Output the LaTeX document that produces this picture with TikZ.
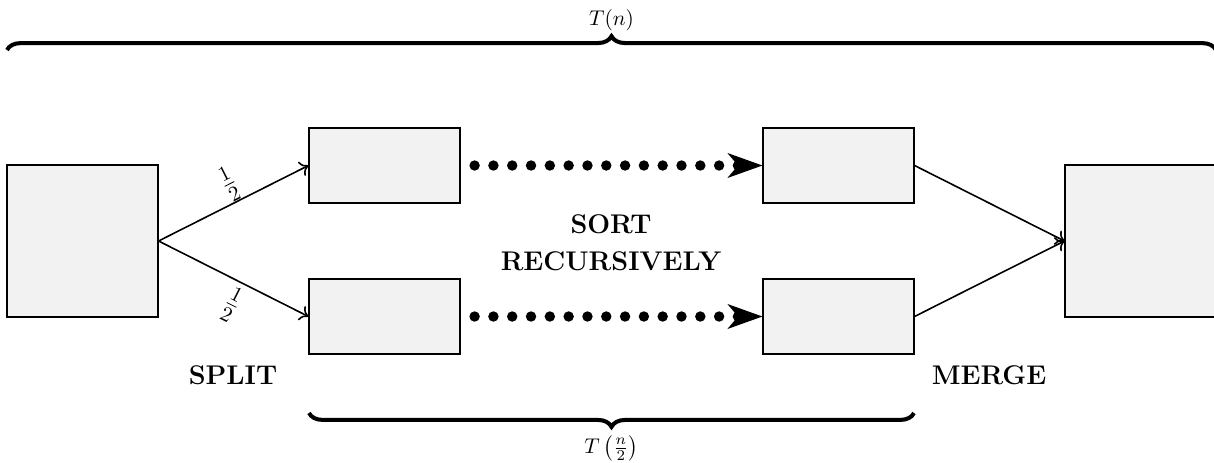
\documentclass[tikz,border=0pt]{standalone}
\usetikzlibrary{arrows.meta,decorations.pathreplacing}
\definecolor{boxgray}{HTML}{F2F2F2}
\begin{document}
\begin{tikzpicture}[x=0.47pt,y=-0.47pt,
  boxbase/.style={draw, line width=0.9pt, fill=boxgray, inner sep=0pt},
  bigbox/.style={boxbase, minimum width=70.6pt, minimum height=71.2pt},
  smallbox/.style={boxbase, minimum width=70.6pt, minimum height=35.2pt},
  fan/.style={line width=0.75pt, -{To[length=3.8pt, width=7.4pt]}},
  dotrow/.style={line width=4.9pt, line cap=round, dash pattern=on 0pt off 8.84pt,
    shorten <=6.6pt, -{Stealth[length=16.5pt, width=11.8pt, inset=5pt, line width=0pt]}},
  brace/.style={decorate, line width=1.9pt,
    decoration={brace, amplitude=6.5pt}},
  frac/.style={font=\Large, sloped},
  lbl/.style={font=\fontsize{12.7}{15}\selectfont\bfseries, inner sep=0pt}]
  \useasboundingbox (0,0) rectangle (1214,462);

  % input, halves and output
  \node[bigbox]   (src) at (82.5,241)   {};
  \node[smallbox] (l1)  at (384.5,165.5) {};
  \node[smallbox] (l2)  at (384.5,316.5) {};
  \node[smallbox] (r1)  at (838.5,165.5) {};
  \node[smallbox] (r2)  at (838.5,316.5) {};
  \node[bigbox]   (dst) at (1140.5,241) {};

  % split
  \draw[fan] (src.east) -- node[frac, above, inner sep=0pt, pos=0.53] {$\frac{1}{2}$} (l1.west);
  \draw[fan] (src.east) -- node[frac, below, inner sep=2.5pt, pos=0.56] {$\frac{1}{2}$} (l2.west);

  % recursive sorting
  \draw[dotrow] (l1.east) -- (r1.west);
  \draw[dotrow] (l2.east) -- (r2.west);

  % merge
  \draw[fan] (r1.east) -- (dst.west);
  \draw[fan] (r2.east) -- (dst.west);

  % labels
  \node[lbl] (split) at (233,375) {SPLIT};
  \node[lbl] (sort)  at (611,224) {SORT};
  \node[lbl] (rec)   at (611,261) {RECURSIVELY};
  \node[lbl] (merge) at (989,375) {MERGE};

  % running-time braces
  \coordinate (tbl) at (7,50);
  \coordinate (tbr) at (1216,50);
  \draw[brace] (tbl) -- (tbr);
  \node (tn) at (611.5,20) {$T(n)$};

  \coordinate (bbl) at (309,413);
  \coordinate (bbr) at (914,413);
  \draw[brace, decoration={brace, amplitude=6.5pt, mirror}] (bbl) -- (bbr);
  \node (tn2) at (611.5,448) {$T\left(\frac{n}{2}\right)$};
\end{tikzpicture}
\end{document}
